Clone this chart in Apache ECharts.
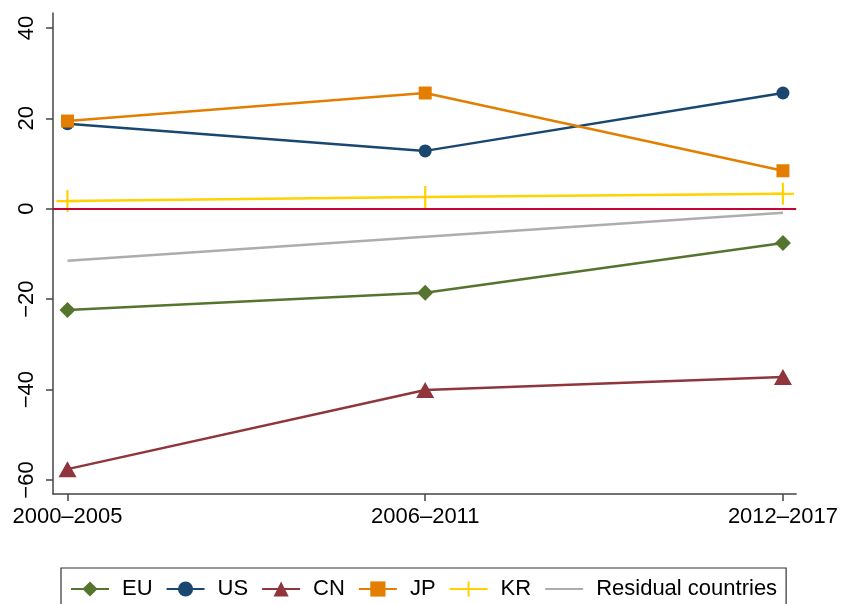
<!DOCTYPE html>
<html><head><meta charset="utf-8">
<script src="https://cdn.jsdelivr.net/npm/echarts@6/dist/echarts.min.js"></script>
<style>html,body{margin:0;padding:0;background:#fff}#c{width:841px;height:604px}</style>
</head><body><div id="c"></div>
<script>
var categories = ['2000–2005', '2006–2011', '2012–2017'];
var EU = [-22.4, -18.6, -7.6];
var US = [18.8, 12.8, 25.6];
var CN = [-57.6, -40.1, -37.2];
var JP = [19.4, 25.6, 8.4];
var KR = [1.7, 2.6, 3.3];
var RES = [-11.5, -6.2, -0.9];
var yTicks = [-60, -40, -20, 0, 20, 40];

function pts(arr){ return arr.map(function(v,i){ return [i, v]; }); }
var font = 'Liberation Sans, Arial, sans-serif';
var plus = 'path://M10,0 L10,20 M0,10 L20,10';

function ser(name, data, color, symbol, size, extra){
  var s = {
    name: name, type: 'line', data: pts(data), symbol: symbol, symbolSize: size,
    lineStyle: {color: color, width: 2.5}, itemStyle: {color: color},
    emphasis: {disabled: true}, animation: false, z: 3
  };
  if (extra) for (var k in extra) s[k] = extra[k];
  return s;
}

var chart = echarts.init(document.getElementById('c'));
chart.setOption({
  backgroundColor: '#fff',
  grid: {left: 53, right: 44, top: 13, bottom: 110, containLabel: false},
  xAxis: {
    type: 'value', min: -0.0405, max: 2.037, interval: 1,
    splitLine: {show: false},
    axisLine: {show: true, onZero: false, lineStyle: {color: '#444', width: 1.5}},
    axisTick: {show: true, length: 7, lineStyle: {color: '#444', width: 1.5},
      customValues: [0, 1, 2]},
    axisLabel: {show: true, customValues: [0, 1, 2], fontSize: 22, color: '#000', fontFamily: font, margin: 12,
      formatter: function(v){ return categories[Math.round(v)] || ''; }}
  },
  yAxis: {
    type: 'value', min: -63.1, max: 43.3,
    splitLine: {show: false},
    axisLine: {show: true, onZero: false, lineStyle: {color: '#444', width: 1.5}},
    axisTick: {show: true, length: 7, lineStyle: {color: '#444', width: 1.5}, customValues: yTicks},
    axisLabel: {show: true, customValues: yTicks, rotate: 90, fontSize: 22, color: '#000', fontFamily: font, margin: 15,
      formatter: function(v){ return String(v).replace('-', '−'); }}
  },
  legend: {
    top: 568, left: 61,
    padding: [10, 9, 30, 9],
    borderColor: '#333', borderWidth: 1.2,
    itemWidth: 38, itemHeight: 19, itemGap: 13,
    textStyle: {fontSize: 22, color: '#000', fontFamily: font, padding: [0, 0, 0, 8]},
    data: ['EU', 'US', 'CN', 'JP', 'KR', {name: 'Residual countries', itemStyle: {opacity: 0}}]
  },
  series: [
    ser('EU', EU, '#55752f', 'diamond', 16),
    ser('US', US, '#1a476f', 'circle', 13),
    ser('CN', CN, '#90353b', 'triangle', [18, 16]),
    ser('JP', JP, '#e37e00', 'rect', 13),
    ser('KR', KR, '#ffd200', plus, 22, {itemStyle: {color: '#ffd200', borderColor: '#ffd200', borderWidth: 2.2}}),
    ser('Residual countries', RES, '#adadad', 'none', 0, {
      markLine: {silent: true, symbol: 'none', label: {show: false},
        lineStyle: {color: '#c10534', width: 2, type: 'solid'},
        data: [{yAxis: 0}], animation: false}
    })
  ]
});
</script></body></html>
